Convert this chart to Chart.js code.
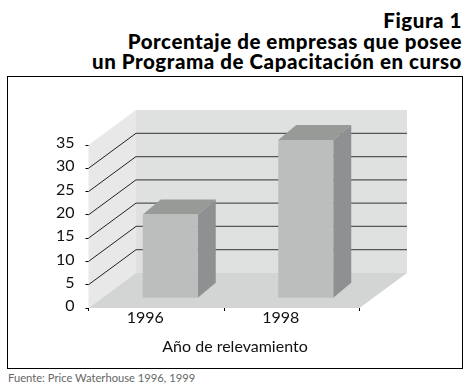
<!DOCTYPE html>
<html>
<head>
<meta charset="utf-8">
<script src="https://cdn.jsdelivr.net/npm/chart.js@4"></script>
<style>
  html, body { margin: 0; padding: 0; background: #fff; overflow: hidden; }
  body { width: 471px; height: 388px; position: relative; font-family: Lato, sans-serif; }
  canvas { position: absolute; left: 0; top: 0; }
  #title { position: absolute; right: 9px; top: 10px; text-align: right; font-weight: 900; font-size: 20.5px; line-height: 20.5px; letter-spacing: 0.55px; color: #000; white-space: nowrap; }
  #frame { position: absolute; left: 7px; top: 76px; width: 454px; height: 291px; border: 1px solid #000; }
  #source { position: absolute; left: 8px; top: 371px; font-size: 11.2px; color: #666; white-space: nowrap; }
</style>
</head>
<body>
<div id="title">Figura 1<br>Porcentaje de empresas que posee<br>un Programa de Capacitación en curso</div>
<div id="frame"></div>
<div id="source">Fuente: Price Waterhouse 1996, 1999</div>
<canvas id="myChart" width="471" height="388"></canvas>
<script>
const years = ['1996', '1998'];
const percentages = [18, 34];
const yTicks = [0, 5, 10, 15, 20, 25, 30, 35];
const xTitle = 'Año de relevamiento';

// depth of the fake 3d box and how far into it the bars stand
const depthX = 47.5, depthY = -35;
const barShiftX = 14, barShiftY = -9.7;
const barDepthX = 18, barDepthY = -15;

function poly(ctx, pts, fill) {
  ctx.beginPath();
  pts.forEach((p, i) => i ? ctx.lineTo(p[0], p[1]) : ctx.moveTo(p[0], p[1]));
  ctx.closePath();
  ctx.fillStyle = fill;
  ctx.fill();
}

const box3d = {
  id: 'box3d',
  beforeDatasetsDraw(chart) {
    const { ctx, chartArea: a, scales } = chart;
    ctx.save();
    // left wall, back wall, floor
    poly(ctx, [[a.left, a.top], [a.left + depthX, a.top + depthY], [a.left + depthX, a.bottom + depthY], [a.left, a.bottom]], '#e8e8e8');
    poly(ctx, [[a.left + depthX, a.top + depthY], [a.right + depthX, a.top + depthY], [a.right + depthX, a.bottom + depthY], [a.left + depthX, a.bottom + depthY]], '#dfe0e0');
    poly(ctx, [[a.left, a.bottom], [a.left + depthX, a.bottom + depthY], [a.right + depthX, a.bottom + depthY], [a.right, a.bottom]], '#d3d5d4');
    // grid lines run along the left wall then the back wall
    yTicks.slice(1, -1).forEach(v => {
      const y = scales.y.getPixelForValue(v);
      ctx.lineWidth = 1;
      ctx.beginPath();
      ctx.moveTo(a.left, y);
      ctx.lineTo(a.left + depthX, y + depthY);
      ctx.strokeStyle = '#222';
      ctx.stroke();
      ctx.beginPath();
      ctx.moveTo(a.left + depthX, y + depthY);
      ctx.lineTo(a.right + depthX, y + depthY);
      ctx.lineWidth = 1.3;
      ctx.strokeStyle = '#555';
      ctx.stroke();
    });
    // side and top of each bar
    chart.getDatasetMeta(0).data.forEach(bar => {
      const l = bar.x - bar.width / 2 + barShiftX, r = bar.x + bar.width / 2 + barShiftX;
      const t = bar.y + barShiftY, b = bar.base + barShiftY;
      poly(ctx, [[r, t], [r + barDepthX, t + barDepthY], [r + barDepthX, b + barDepthY], [r, b]], '#8f9091');
      poly(ctx, [[l, t], [l + barDepthX, t + barDepthY], [r + barDepthX, t + barDepthY], [r, t]], '#989a98');
    });
    ctx.restore();
    // the front faces are the library's own bars, moved into the box
    ctx.save();
    ctx.translate(barShiftX, barShiftY);
  },
  afterDatasetsDraw(chart) {
    const { ctx } = chart;
    ctx.restore();
    ctx.save();
    ctx.font = '16px Lato, sans-serif';
    ctx.fillStyle = '#111';
    ctx.textAlign = 'center';
    ctx.textBaseline = 'middle';
    ctx.fillText(xTitle, 235, 346.5);
    ctx.restore();
  }
};

const ctx = document.getElementById('myChart').getContext('2d');
const chart = new Chart(ctx, {
  type: 'bar',
  data: {
    labels: years,
    datasets: [{ data: percentages, backgroundColor: '#bcbdbd', barPercentage: 0.406, categoryPercentage: 1 }]
  },
  options: {
    responsive: false,
    animation: false,
    layout: { padding: { top: 145, right: 111.5, left: 0, bottom: 0 } },
    plugins: { legend: { display: false }, tooltip: { enabled: false } },
    scales: {
      x: {
        afterFit(s) { s.height = 80; },
        grid: { drawOnChartArea: false, drawTicks: true, tickLength: 3, color: '#000' },
        border: { display: false },
        ticks: { color: '#111', font: { family: 'Lato', size: 16 }, labelOffset: -11, padding: -3, maxRotation: 0 }
      },
      y: {
        min: 0,
        max: 35,
        afterFit(s) { s.width = 88.5; },
        grid: { drawOnChartArea: false, tickLength: 3, color: '#000' },
        border: { display: false },
        ticks: { stepSize: 5, color: '#111', font: { family: 'Lato', size: 16 }, padding: 11, labelOffset: -2 }
      }
    }
  },
  plugins: [box3d]
});
</script>
</body>
</html>
